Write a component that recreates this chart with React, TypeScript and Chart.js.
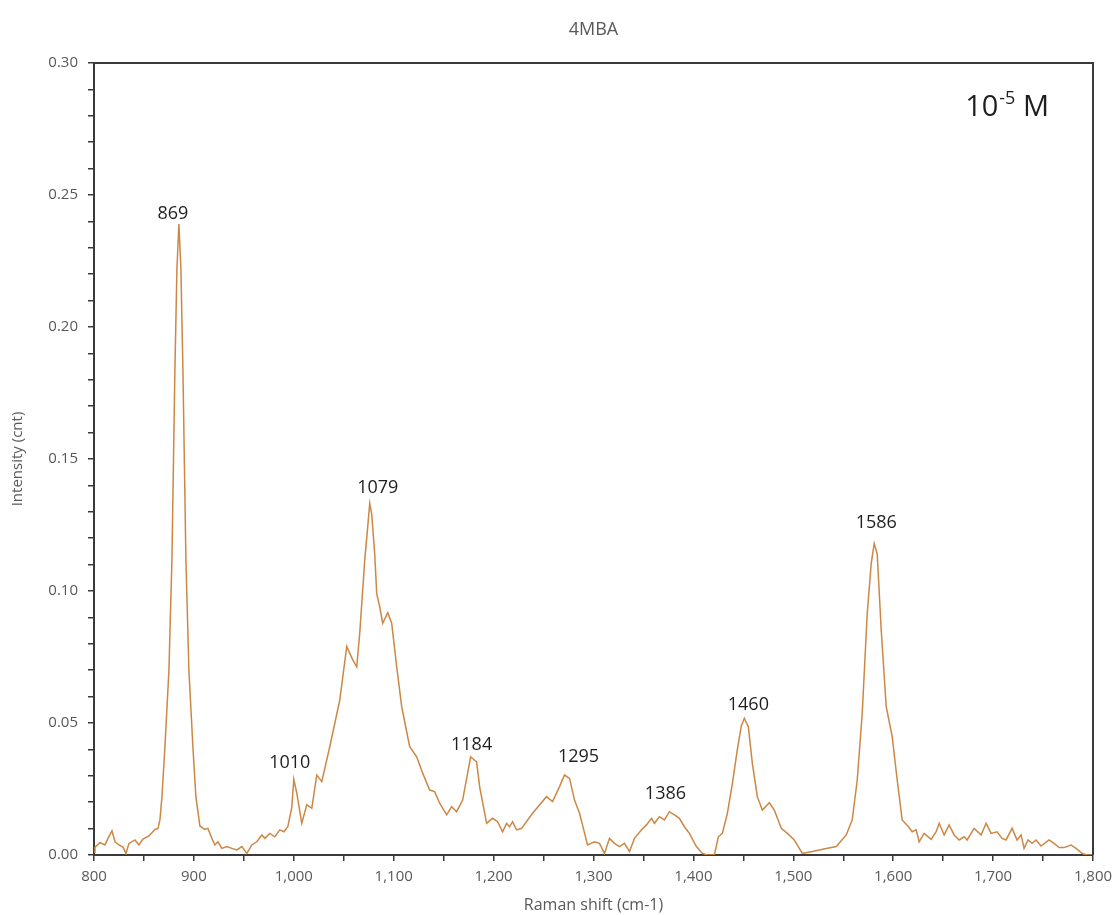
import { useEffect, useRef } from "react";
import { Chart, registerables } from "chart.js";

Chart.register(...registerables);

// ---- spectrum data -------------------------------------------------------
const chartTitle = "4MBA";
const xAxisTitle = "Raman shift (cm-1)";
const yAxisTitle = "Intensity (cnt)";

// Raman shift (cm-1)
const shifts = [
  800, 801, 806, 811, 814, 818, 821, 825, 829, 832, 835, 841, 845, 849, 855, 861, 864, 866, 868, 871,
  875, 878, 881, 883, 885, 887, 889, 892, 895, 899, 902, 906, 911, 914, 918, 921, 924, 928, 933, 938,
  943, 948, 953, 958, 963, 968, 971, 976, 981, 986, 990, 994, 998, 1000, 1003, 1008, 1013, 1018, 1023, 1028,
  1036, 1046, 1053, 1059, 1063, 1066, 1071, 1074, 1076, 1078, 1081, 1083, 1086, 1089, 1094, 1098, 1103, 1108, 1116, 1123,
  1129, 1136, 1141, 1146, 1153, 1158, 1163, 1169, 1177, 1183, 1186, 1193, 1199, 1204, 1209, 1213, 1216, 1219, 1223, 1228,
  1239, 1253, 1259, 1266, 1271, 1276, 1281, 1286, 1289, 1294, 1301, 1306, 1311, 1316, 1321, 1326, 1331, 1336, 1341, 1348,
  1353, 1358, 1361, 1366, 1371, 1376, 1381, 1386, 1391, 1396, 1403, 1409, 1414, 1421, 1425, 1429, 1434, 1439, 1444, 1448,
  1451, 1455, 1459, 1464, 1469, 1476, 1481, 1488, 1494, 1501, 1509, 1519, 1533, 1543, 1553, 1559, 1564, 1569, 1574, 1578,
  1581, 1584, 1588, 1593, 1599, 1604, 1609, 1616, 1619, 1623, 1626, 1631, 1638, 1643, 1646, 1651, 1656, 1661, 1666, 1671,
  1674, 1681, 1688, 1693, 1698, 1704, 1709, 1713, 1719, 1724, 1728, 1731, 1735, 1739, 1743, 1748, 1756, 1761, 1766, 1771,
  1778, 1783, 1789, 1794, 1800,
];

// Intensity (cnt)
const intensity = [
  0.001, 0.003, 0.0047, 0.0038, 0.0063, 0.0092, 0.005, 0.0038, 0.003, 0.0006, 0.0044, 0.0057, 0.0038, 0.006, 0.0072, 0.0097, 0.01, 0.0133, 0.022, 0.041,
  0.07, 0.112, 0.184, 0.222, 0.239, 0.222, 0.184, 0.112, 0.07, 0.041, 0.022, 0.011, 0.0097, 0.0101, 0.0063, 0.0038, 0.005, 0.0025, 0.0032, 0.0025,
  0.0019, 0.0032, 0.0006, 0.0038, 0.005, 0.0076, 0.0063, 0.0082, 0.0069, 0.0095, 0.0088, 0.0107, 0.018, 0.0287, 0.0234, 0.012, 0.019, 0.0177, 0.0303, 0.0278,
  0.041, 0.0587, 0.079, 0.0739, 0.0713, 0.084, 0.1117, 0.1244, 0.1332, 0.129, 0.114, 0.099, 0.094, 0.0878, 0.0918, 0.0878, 0.0713, 0.0562, 0.041, 0.0372,
  0.031, 0.0246, 0.024, 0.0196, 0.0152, 0.0183, 0.0164, 0.0208, 0.0372, 0.0353, 0.0259, 0.012, 0.0139, 0.0126, 0.0088, 0.012, 0.0107, 0.0126, 0.0095, 0.0101,
  0.0158, 0.0221, 0.0202, 0.0259, 0.0303, 0.029, 0.0208, 0.0158, 0.0114, 0.0038, 0.005, 0.0044, 0.0006, 0.0063, 0.0044, 0.0032, 0.0044, 0.0013, 0.0063, 0.0095,
  0.0114, 0.0139, 0.012, 0.0145, 0.0133, 0.0164, 0.0152, 0.0139, 0.0107, 0.0082, 0.0032, 0.0006, 0, 0, 0.0069, 0.0082, 0.0158, 0.027, 0.04, 0.049,
  0.0518, 0.0486, 0.0347, 0.0221, 0.017, 0.0198, 0.017, 0.0101, 0.0082, 0.0057, 0.0006, 0.0013, 0.0025, 0.0032, 0.0076, 0.0133, 0.0284, 0.0537, 0.0915, 0.1105,
  0.118, 0.114, 0.0852, 0.0562, 0.0448, 0.0284, 0.0133, 0.0104, 0.0088, 0.0095, 0.005, 0.0082, 0.0059, 0.0088, 0.012, 0.0076, 0.0114, 0.0076, 0.0057, 0.0069,
  0.0057, 0.0101, 0.0076, 0.012, 0.0082, 0.0088, 0.0063, 0.0057, 0.0101, 0.0057, 0.0076, 0.0025, 0.0057, 0.0044, 0.0057, 0.0034, 0.0057, 0.0044, 0.0028, 0.0028,
  0.0038, 0.0025, 0.0006, 0, 0,
];

// Band labels and the shift of the spectrum point each one sits above
const peakLabels = ["869", "1010", "1079", "1184", "1295", "1386", "1460", "1586"];
const peakShifts = [885, 1000, 1076, 1177, 1271, 1376, 1451, 1581];

// Concentration note in the top-right corner
const concBase = "10";
const concExponent = "-5";
const concUnit = " M";

// ---- styling --------------------------------------------------------------
const FONT = "'Open Sans', 'DejaVu Sans', sans-serif";
const TEXT_GREY = "#595959";
const AXIS_DARK = "#3a3a3a";
const LINE_ORANGE = "#cc8744";

// small horizontal / vertical nudges for the band labels (px)
const labelNudge: [number, number][] = [
  [-6, 5], [-4, 11], [8, 10], [1, 7], [14, 13], [-4, 13], [4, 8], [2, 15],
];

const annotationPlugin = {
  id: "spectrumAnnotations",
  afterDatasetsDraw(chart: any) {
    const { ctx, chartArea, scales } = chart;
    const xs = scales.x;
    const ys = scales.y;
    ctx.save();

    // frame on top and right edges
    ctx.strokeStyle = AXIS_DARK;
    ctx.lineWidth = 2;
    ctx.beginPath();
    ctx.moveTo(chartArea.left, chartArea.top);
    ctx.lineTo(chartArea.right, chartArea.top);
    ctx.lineTo(chartArea.right, chartArea.bottom);
    ctx.stroke();

    // chart title, centred over the plot area
    ctx.fillStyle = TEXT_GREY;
    ctx.font = `18px ${FONT}`;
    ctx.textAlign = "center";
    ctx.textBaseline = "middle";
    ctx.fillText(chartTitle, (chartArea.left + chartArea.right) / 2, 30);

    // band labels
    ctx.fillStyle = "#1e1e1e";
    ctx.font = `18px ${FONT}`;
    ctx.textAlign = "center";
    ctx.textBaseline = "alphabetic";
    peakLabels.forEach((text, i) => {
      const idx = shifts.indexOf(peakShifts[i]);
      const px = xs.getPixelForValue(shifts[idx]);
      const py = ys.getPixelForValue(intensity[idx]);
      const [dx, dy] = labelNudge[i];
      ctx.fillText(text, px + dx, py - dy);
    });

    // concentration note
    ctx.textAlign = "left";
    ctx.fillStyle = "#1e1e1e";
    const baseFont = `29px ${FONT}`;
    const supFont = `18px ${FONT}`;
    ctx.font = baseFont;
    const wBase = ctx.measureText(concBase).width;
    const wUnit = ctx.measureText(concUnit).width;
    ctx.font = supFont;
    const wSup = ctx.measureText(concExponent).width;
    const right = chartArea.right - 45;
    const baseline = chartArea.top + 53;
    let x = right - (wBase + wSup + wUnit);
    ctx.font = baseFont;
    ctx.fillText(concBase, x, baseline);
    x += wBase;
    ctx.font = supFont;
    ctx.fillText(concExponent, x + 1, baseline - 12);
    x += wSup + 1;
    ctx.font = baseFont;
    ctx.fillText(concUnit, x, baseline);

    ctx.restore();
  },
};

export default function App() {
  const canvasRef = useRef<HTMLCanvasElement | null>(null);

  useEffect(() => {
    const canvas = canvasRef.current;
    if (!canvas) return;

    const points = shifts.map((s, i) => ({ x: s, y: intensity[i] }));

    const chart = new Chart(canvas, {
      type: "line",
      data: {
        datasets: [
          {
            label: chartTitle,
            data: points,
            borderColor: LINE_ORANGE,
            borderWidth: 1.5,
            pointRadius: 0,
            tension: 0,
            fill: false,
          },
        ],
      },
      options: {
        responsive: false,
        animation: false,
        layout: { padding: { top: 63, right: 19, bottom: 0, left: 0 } },
        plugins: {
          legend: { display: false },
          tooltip: { enabled: false },
          title: { display: false },
        },
        scales: {
          x: {
            type: "linear",
            min: 800,
            max: 1800,
            afterFit(scale: any) {
              scale.height = 60;
              scale.paddingLeft = 0;
              scale.paddingRight = 0;
            },
            border: { display: true, color: AXIS_DARK, width: 2 },
            grid: {
              display: true,
              drawOnChartArea: false,
              drawTicks: true,
              tickLength: 6,
              color: AXIS_DARK,
              lineWidth: 1.5,
            },
            ticks: {
              stepSize: 50,
              autoSkip: false,
              maxRotation: 0,
              padding: 7,
              color: TEXT_GREY,
              font: { family: FONT, size: 15 },
              callback: (v: any) =>
                Math.round(Number(v)) % 100 === 0 ? Number(v).toLocaleString("en-US") : "",
            },
            title: {
              display: true,
              text: xAxisTitle,
              color: TEXT_GREY,
              font: { family: FONT, size: 16 },
              padding: { top: 0, bottom: 0 },
            },
          },
          y: {
            type: "linear",
            min: 0,
            max: 0.3,
            afterFit(scale: any) {
              scale.width = 94;
              scale.paddingTop = 0;
              scale.paddingBottom = 0;
            },
            border: { display: true, color: AXIS_DARK, width: 2 },
            grid: {
              display: true,
              drawOnChartArea: false,
              drawTicks: true,
              tickLength: 6,
              color: AXIS_DARK,
              lineWidth: 1.5,
            },
            ticks: {
              stepSize: 0.01,
              autoSkip: false,
              padding: 10,
              color: TEXT_GREY,
              font: { family: FONT, size: 15 },
              callback: (v: any) =>
                Math.round(Number(v) * 100) % 5 === 0 ? Number(v).toFixed(2) : "",
            },
            title: {
              display: true,
              text: yAxisTitle,
              color: TEXT_GREY,
              font: { family: FONT, size: 15 },
              padding: { top: 9, bottom: 0 },
            },
          },
        },
      },
      plugins: [annotationPlugin],
    });

    return () => chart.destroy();
  }, []);

  return (
    <div style={{ position: "absolute", left: 0, top: 0, width: 1112, height: 915, background: "#fff" }}>
      <canvas ref={canvasRef} width={1112} height={915} style={{ display: "block" }} />
    </div>
  );
}
